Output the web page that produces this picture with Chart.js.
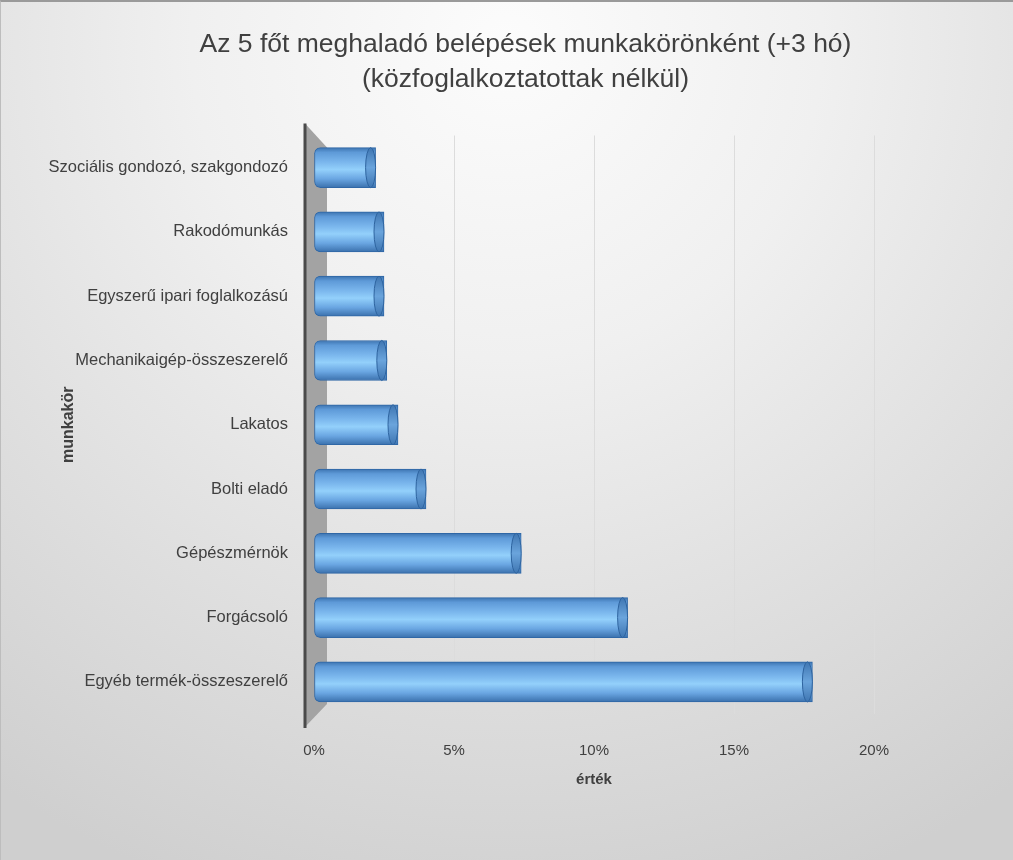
<!DOCTYPE html>
<html>
<head>
<meta charset="utf-8">
<script src="https://cdn.jsdelivr.net/npm/chart.js@4"></script>
<style>
  html, body { margin: 0; padding: 0; }
  body {
    width: 1013px; height: 860px; overflow: hidden;
    background: radial-gradient(ellipse 900px 900px at 50% 5%, #fcfcfc 0%, #f0f0f0 35%, #dedede 70%, #cfcfcf 100%);
  }
  #wrap { position: absolute; left: 0; top: 0; width: 1013px; height: 860px; box-sizing: border-box; border-top: 2px solid #9a9a9a; border-left: 1px solid #bdbdbd; }
</style>
</head>
<body>
<div id="wrap"><canvas id="myChart" width="1013" height="860"></canvas></div>
<script>
// categories top -> bottom
const jobs = ['Szociális gondozó, szakgondozó', 'Rakodómunkás', 'Egyszerű ipari foglalkozású',
  'Mechanikaigép-összeszerelő', 'Lakatos', 'Bolti eladó', 'Gépészmérnök', 'Forgácsoló',
  'Egyéb termék-összeszerelő']
// share of entries (%)
const shares = [2.2, 2.5, 2.5, 2.6, 3.0, 4.0, 7.4, 11.2, 17.8]
const xTicks = [0, 5, 10, 15, 20]
const titleLines = ['Az 5 főt meghaladó belépések munkakörönként (+3 hó)', '(közfoglalkoztatottak nélkül)']

const FONT = '"Liberation Sans", Arial, sans-serif'

// grey side wall + dark axis line like the 3d excel chart
const wallPlugin = {
  id: 'wall',
  beforeDatasetsDraw(chart) {
    const a = chart.chartArea, c = chart.ctx
    c.save()
    c.fillStyle = '#a3a3a3'
    c.beginPath()
    c.moveTo(a.left - 9, a.top - 12)
    c.lineTo(a.left + 13, a.top + 12)
    c.lineTo(a.left + 13, a.bottom - 10)
    c.lineTo(a.left - 9, a.bottom + 13)
    c.closePath()
    c.fill()
    c.strokeStyle = '#4a4a4a'
    c.lineWidth = 3
    c.beginPath()
    c.moveTo(a.left - 9, a.top - 12)
    c.lineTo(a.left - 9, a.bottom + 14)
    c.stroke()
    c.restore()
  },
  afterDatasetsDraw(chart) {
    // cylinder end caps
    const c = chart.ctx
    chart.getDatasetMeta(0).data.forEach(bar => {
      const h = bar.height / 2
      c.save()
      const g = c.createLinearGradient(0, bar.y - h, 0, bar.y + h)
      g.addColorStop(0, '#3f76b2')
      g.addColorStop(0.5, '#6aa4dc')
      g.addColorStop(1, '#3f76b2')
      c.beginPath()
      c.ellipse(bar.x - 5, bar.y, 5, h, 0, 0, Math.PI * 2)
      c.fillStyle = g
      c.fill()
      c.strokeStyle = '#2e64a0'
      c.lineWidth = 1
      c.stroke()
      c.restore()
    })
    // y axis title
    const a = chart.chartArea
    c.save()
    c.translate(68, (a.top + a.bottom) / 2)
    c.rotate(-Math.PI / 2)
    c.font = 'bold 16px ' + FONT
    c.fillStyle = '#404040'
    c.textAlign = 'center'
    c.textBaseline = 'middle'
    c.fillText('munkakör', 0, 0)
    c.restore()
  }
}

function barFill(context) {
  const chart = context.chart
  const ys = chart.scales && chart.scales.y
  if (!ys || !chart.chartArea || context.dataIndex === undefined) return '#6aa5e0'
  const mid = ys.getPixelForValue(context.dataIndex)
  if (!isFinite(mid)) return '#6aa5e0'
  const g = chart.ctx.createLinearGradient(0, mid - 20, 0, mid + 20)
  g.addColorStop(0, '#3d74b0')
  g.addColorStop(0.12, '#5e9ad8')
  g.addColorStop(0.35, '#79b5ec')
  g.addColorStop(0.55, '#93d0fb')
  g.addColorStop(0.78, '#6aa6e2')
  g.addColorStop(1, '#3b71ad')
  return g
}

const ctx = document.getElementById('myChart').getContext('2d')
const chart = new Chart(ctx, {
  type: 'bar',
  data: {
    labels: jobs,
    datasets: [{
      data: shares,
      backgroundColor: barFill,
      borderColor: '#2f67a6',
      borderWidth: 1,
      borderSkipped: false,
      borderRadius: { topLeft: 6, bottomLeft: 6, topRight: 0, bottomRight: 0 },
      barThickness: 40
    }]
  },
  plugins: [wallPlugin],
  options: {
    indexAxis: 'y',
    responsive: false,
    animation: false,
    layout: { padding: { left: 36, right: 0, top: 0, bottom: 73 } },
    plugins: {
      legend: { display: false },
      tooltip: { enabled: false },
      title: {
        display: true,
        text: titleLines,
        color: '#404040',
        font: { family: FONT, size: 26.5, weight: 'normal', lineHeight: 1.33 },
        padding: { top: 25, bottom: 38 }
      }
    },
    scales: {
      x: {
        min: 0, max: 20,
        afterBuildTicks: s => { s.ticks = xTicks.map(v => ({ value: v })) },
        ticks: {
          callback: v => v + '%',
          color: '#404040',
          font: { family: FONT, size: 15 },
          padding: 28
        },
        grid: {
          color: ctx => ctx.tick && ctx.tick.value === 0 ? 'rgba(0,0,0,0)' : '#dcdcdc',
          drawTicks: false
        },
        border: { display: false },
        title: {
          display: true, text: 'érték', color: '#404040',
          font: { family: FONT, size: 15, weight: 'bold' },
          padding: { top: -17, bottom: 0 }
        }
      },
      y: {
        afterFit: s => { s.width = 277 },
        ticks: {
          color: '#404040',
          font: { family: FONT, size: 16.5 },
          padding: 18
        },
        grid: { display: false },
        border: { display: false }
      },
      // empty right-hand band so the plot ends where the reference's does
      yR: {
        type: 'category',
        position: 'right',
        afterFit: s => { s.width = 140 },
        ticks: { display: false },
        grid: { display: false },
        border: { display: false }
      }
    }
  }
})
</script>
</body>
</html>
